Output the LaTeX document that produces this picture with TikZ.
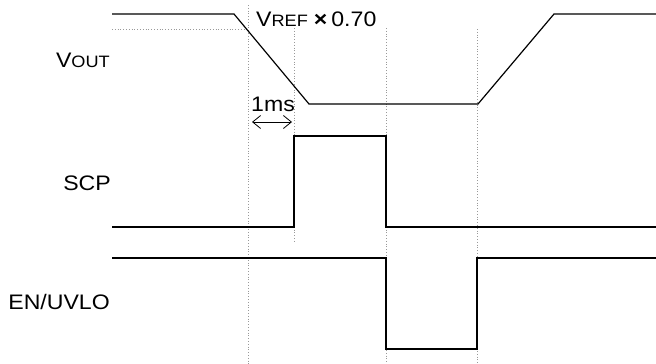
\documentclass[tikz,border=0pt]{standalone}
\usepackage{fontspec}
\newfontfamily\lab[FakeStretch=1.1]{Liberation Sans}
\usetikzlibrary{arrows.meta}
\tikzset{
  wave/.style={line width=1.2pt, black, line join=miter},
  guide/.style={line width=0.8pt, gray!80, dotted},
  lbl/.style={inner sep=0pt, font=\lab\fontsize{21}{25}\selectfont},
  dim/.style={line width=0.8pt, {Straight Barb[length=8pt,width=13pt]}-{Straight Barb[length=8pt,width=13pt]}}
}
\newcommand{\smc}[1]{{\fontsize{16.5}{19}\selectfont #1}}
\begin{document}
\begin{tikzpicture}[x=1pt,y=-1pt]
\useasboundingbox (0,0) rectangle (656,364);
% guide lines
\coordinate (g1t) at (248,5);   \coordinate (g1b) at (248,364);
\coordinate (g2t) at (294,28);  \coordinate (g2b) at (294,241);
\coordinate (g3t) at (386,28);  \coordinate (g3b) at (386,364);
\coordinate (g4t) at (477,29);  \coordinate (g4b) at (477,364);
\coordinate (thl) at (112,29);  \coordinate (thr) at (246.5,29);
\draw[guide] (g1t) -- (g1b);
\draw[guide] (g2t) -- (g2b);
\draw[guide] (g3t) -- (g3b);
\draw[guide] (g4t) -- (g4b);
\draw[guide] (thl) -- (thr);
% waveforms
\draw[wave] (112,14) -- (234,14) -- (309,104) -- (478,104) -- (554,14) -- (656,14);
\draw[wave] (112,227) -- (294,227) -- (294,136) -- (386,136) -- (386,227) -- (656,227);
\draw[wave] (112,258) -- (386,258) -- (386,349) -- (477,349) -- (477,258) -- (656,258);
% labels
\node[lbl, anchor=base east] (vout) at (110,67) {V\smc{OUT}};
\node[lbl, anchor=base east] (scp) at (111,190) {SCP};
\node[lbl, anchor=base east] (en) at (110,309) {EN/UVLO};
\node[lbl, anchor=base west] (vref) at (256,27) {V\smc{REF}\hspace{6pt}{\bfseries ×}\hspace{4pt}0.70};
\node[lbl, anchor=base west] (ms) at (251,111) {1ms};
% dimension arrow
\coordinate (al) at (252,122);
\coordinate (ar) at (292,122);
\draw[dim] (al) -- (ar);
\end{tikzpicture}
\end{document}
